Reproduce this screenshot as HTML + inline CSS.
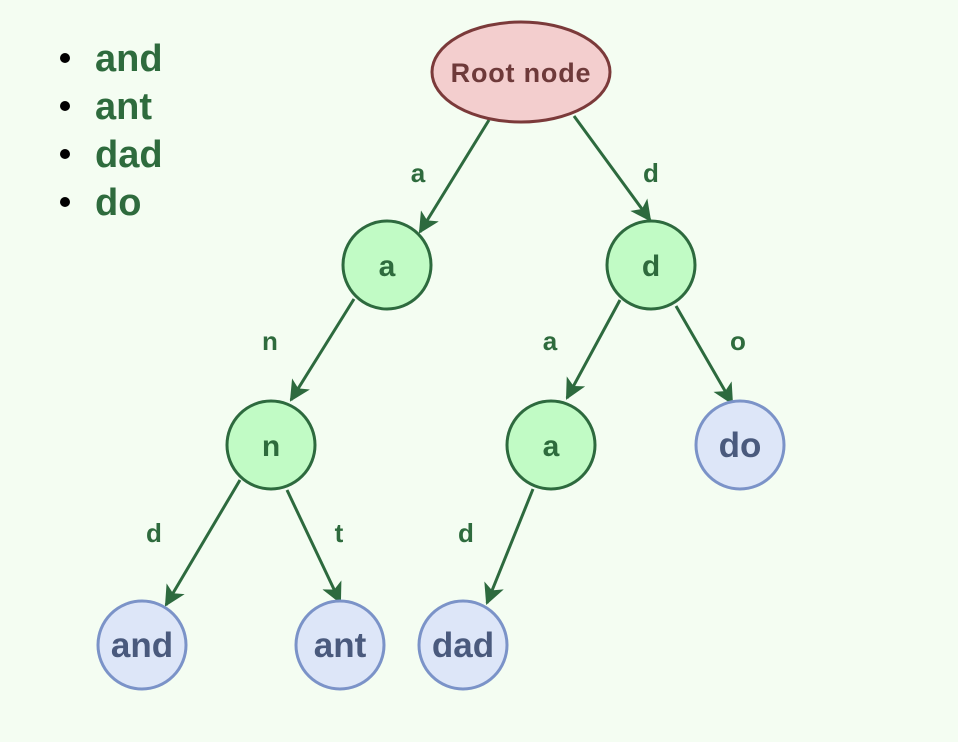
<!DOCTYPE html>
<html><head><meta charset="utf-8"><style>
html,body{margin:0;padding:0;background:#f4fdf2;}
svg{display:block;}
text{font-family:"Liberation Sans",Arial,sans-serif;font-weight:bold;}
</style></head><body>
<svg width="958" height="742" viewBox="0 0 958 742" xmlns="http://www.w3.org/2000/svg">
<defs>
<marker id="ar" viewBox="0 0 10 10" refX="9" refY="5" markerWidth="7" markerHeight="7" markerUnits="strokeWidth" orient="auto">
<path d="M0,0 L10,5 L0,10 L2.5,5 z" fill="#2d6a3e"/>
</marker>
</defs>
<rect width="958" height="742" fill="#f4fdf2"/>
<g fill="#000">
<circle cx="65" cy="58" r="5"/><circle cx="65" cy="106" r="5"/><circle cx="65" cy="154" r="5"/><circle cx="65" cy="202" r="5"/>
</g>
<g fill="#2e6b3d" font-size="38">
<text x="95" y="71">and</text><text x="95" y="119">ant</text><text x="95" y="167">dad</text><text x="95" y="215">do</text>
</g>
<g stroke="#2d6a3e" stroke-width="3" fill="none" marker-end="url(#ar)">
<line x1="489" y1="120" x2="420" y2="232"/>
<line x1="574" y1="116" x2="650" y2="220"/>
<line x1="354" y1="299" x2="291" y2="400"/>
<line x1="620" y1="300" x2="567" y2="398"/>
<line x1="676" y1="306" x2="732" y2="403"/>
<line x1="240" y1="480" x2="166" y2="605"/>
<line x1="287" y1="490" x2="340" y2="602"/>
<line x1="533" y1="489" x2="487" y2="603"/>
</g>
<g fill="#2e6b3d" font-size="26" text-anchor="middle">
<text x="418" y="182">a</text><text x="651" y="182">d</text>
<text x="270" y="350">n</text><text x="550" y="350">a</text><text x="738" y="350">o</text>
<text x="154" y="542">d</text><text x="339" y="542">t</text><text x="466" y="542">d</text>
</g>
<ellipse cx="521" cy="72" rx="89" ry="50" fill="#f3cece" stroke="#7b3a3a" stroke-width="3"/>
<text x="521" y="82" fill="#6e3a3a" font-size="27" letter-spacing="0.8" text-anchor="middle">Root node</text>
<g fill="#c1fbc5" stroke="#2d6a3e" stroke-width="3">
<circle cx="387" cy="265" r="44"/><circle cx="651" cy="265" r="44"/>
<circle cx="271" cy="445" r="44"/><circle cx="551" cy="445" r="44"/>
</g>
<g fill="#2e6b3d" font-size="30" text-anchor="middle">
<text x="387" y="276">a</text><text x="651" y="276">d</text>
<text x="271" y="456">n</text><text x="551" y="456">a</text>
</g>
<g fill="#dde6f8" stroke="#7b93c8" stroke-width="3">
<circle cx="740" cy="445" r="44"/><circle cx="142" cy="645" r="44"/>
<circle cx="340" cy="645" r="44"/><circle cx="463" cy="645" r="44"/>
</g>
<g fill="#4a5a7d" font-size="35" text-anchor="middle">
<text x="740" y="457">do</text><text x="142" y="657">and</text>
<text x="340" y="657">ant</text><text x="463" y="657">dad</text>
</g>
</svg>
</body></html>
